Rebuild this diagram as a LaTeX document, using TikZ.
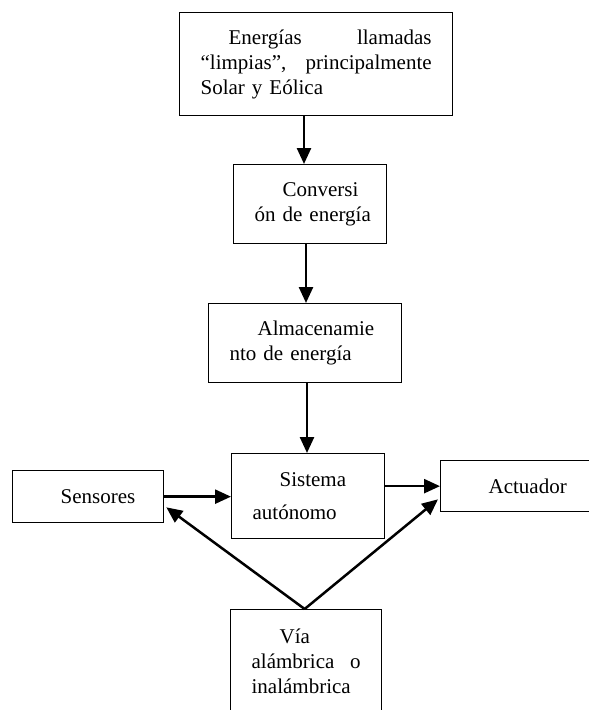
\documentclass[tikz,border=0pt]{standalone}
\usepackage{fontspec}
\setmainfont{Liberation Serif}
\usetikzlibrary{arrows.meta,calc}
\begin{document}
\begin{tikzpicture}[x=1pt,y=-1pt,
  box/.style={draw, line width=1.3pt, rectangle, anchor=north west,
    inner xsep=21pt, inner ysep=0pt, align=left,
    font=\fontsize{21}{25}\selectfont},
  arr/.style={line width=2.5pt, -{Triangle[length=16pt,width=14pt]}}]
\useasboundingbox (0,0) rectangle (589,710);

\node[box, text width=231pt, minimum height=103pt] (b1) at (179,12)
  {\hspace*{28pt}Energías\hfill llamadas\\“limpias”,\hfill principalmente\\\mbox{Solar y Eólica}};
\node[box, text width=111pt, minimum height=79pt] (b2) at (233,164)
  {\hspace*{28pt}Conversi\\\mbox{ón de energía}};
\node[box, text width=151pt, minimum height=79pt] (b3) at (208,303)
  {\hspace*{28pt}Almacenamie\\\mbox{nto de energía}};
\node[box, text width=111pt, minimum height=85pt] (sis) at (231,453)
  {\hspace*{27pt}Sistema\\[8pt]autónomo};
\node[box, text width=109pt, minimum height=52pt] (sen) at (12,470)
  {\hspace*{27pt}Sensores};
\node[box, text width=109pt, minimum height=51pt] (act) at (440,460)
  {\hspace*{27pt}Actuador};
\node[box, text width=109pt, minimum height=103pt] (via) at (230,609)
  {\hspace*{28pt}Vía\\alámbrica\hfill o\\inalámbrica};

\coordinate (x1) at (304,0);
\coordinate (x2) at (306,0);
\coordinate (x3) at (307,0);

\draw[arr] (b1.south -| x1) -- (b2.north -| x1);
\draw[arr] (b2.south -| x2) -- (b3.north -| x2);
\draw[arr] (b3.south -| x3) -- (sis.north -| x3);
\draw[arr] (sen.east) -- (sis.west |- sen.east);
\draw[arr] (sis.east |- act.west) -- (act.west);
\draw[arr] ($(via.north)+(-1.5,0)$) -- ($(sen.south east)+(2,-16)$);
\draw[arr] ($(via.north)+(-1.5,0)$) -- ($(act.south west)+(-2,-13)$);
\end{tikzpicture}
\end{document}
